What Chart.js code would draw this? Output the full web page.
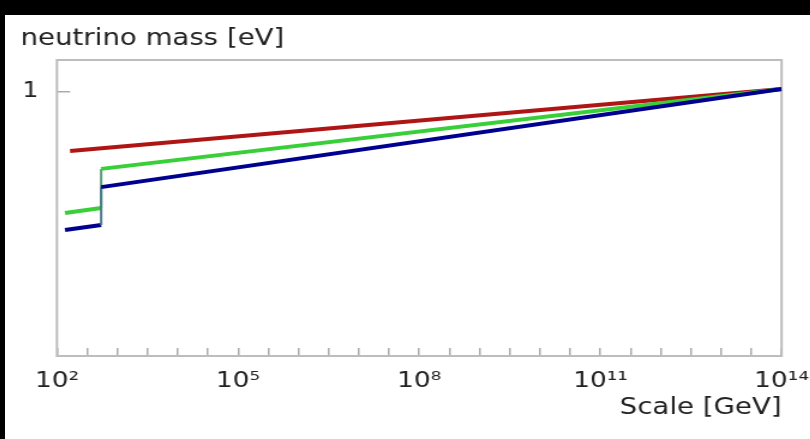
<!DOCTYPE html>
<html>
<head>
<meta charset="utf-8">
<script src="https://cdn.jsdelivr.net/npm/chart.js@4.4.0/dist/chart.umd.min.js"></script>
<style>
  html, body { margin: 0; padding: 0; background: #fff; width: 810px; height: 439px; overflow: hidden; }
  .band { position: absolute; left: 0; top: 0; background: #000; }
  #chart { position: absolute; left: 5px; top: 15px; background: #fff; transform: scaleX(1.2); transform-origin: 0 0; }
</style>
</head>
<body>
<canvas id="chart" width="690" height="424" style="width:690px;height:424px"></canvas>
<div class="band" style="width:810px;height:15px"></div>
<div class="band" style="width:5px;height:439px"></div>
<script>
// scale in GeV, mass in eV
const redScale = [165, 1e14];
const redMass = [0.776, 1.01];
const greenScale = [136, 540, 540, 1e14];
const greenMass = [0.541, 0.560, 0.708, 1.01];
const blueScale = [136, 540, 540, 1e14];
const blueMass = [0.477, 0.496, 0.639, 1.01];

// half-decade tick marks, labels every third decade
const xTickExponents = [2, 2.5, 3, 3.5, 4, 4.5, 5, 5.5, 6, 6.5, 7, 7.5, 8, 8.5, 9, 9.5, 10, 10.5, 11, 11.5, 12, 12.5, 13, 13.5, 14];
const xLabelExponents = [2, 5, 8, 11, 14];
const xTickLabels = ["10²", "10⁵", "10⁸", "10¹¹", "10¹⁴"];
const yTickValues = [1];
const yTickLabels = ["1"];

const toPoints = (xs, ys) => xs.map((x, i) => ({ x: x, y: ys[i] }));
const isStep = ctx => ctx.p0.parsed.x === ctx.p1.parsed.x;

// plot frame
const frame = {
  id: "frame",
  beforeDatasetsDraw(chart) {
    const a = chart.chartArea;
    const ctx = chart.ctx;
    ctx.save();
    ctx.strokeStyle = "#bdbdbd";
    ctx.lineWidth = 2;
    ctx.strokeRect(a.left, a.top, a.right - a.left, a.bottom - a.top);
    ctx.restore();
  }
};

new Chart(document.getElementById("chart"), {
  type: "line",
  data: {
    datasets: [
      {
        data: toPoints(redScale, redMass),
        borderColor: "#b01515",
        borderWidth: 4,
        order: 2
      },
      {
        data: toPoints(greenScale, greenMass),
        borderColor: "#38cf38",
        borderWidth: 4,
        order: 1,
        segment: {
          borderWidth: ctx => isStep(ctx) ? 2 : undefined,
          borderColor: ctx => isStep(ctx) ? "#5a9a78" : undefined
        }
      },
      {
        data: toPoints(blueScale, blueMass),
        borderColor: "#000090",
        borderWidth: 4,
        order: 0,
        segment: {
          borderWidth: ctx => isStep(ctx) ? 2 : undefined,
          borderColor: ctx => isStep(ctx) ? "#4a7a88" : undefined
        }
      }
    ]
  },
  options: {
    responsive: false,
    animation: false,
    events: [],
    elements: { point: { radius: 0 }, line: { tension: 0, borderCapStyle: "butt" } },
    layout: { padding: { left: 13, right: 0, top: 0, bottom: 0 } },
    plugins: {
      legend: { display: false },
      tooltip: { enabled: false },
      title: {
        display: true,
        text: "neutrino mass [eV]",
        align: "start",
        color: "#222",
        font: { family: "DejaVu Sans", size: 23, weight: "normal" },
        padding: { top: 10, bottom: 7.4 }
      }
    },
    scales: {
      x: {
        type: "logarithmic",
        min: 100,
        max: 1e14,
        afterBuildTicks: scale => {
          scale.ticks = xTickExponents.map(e => ({ value: Math.pow(10, e) }));
        },
        afterFit: scale => { scale.height = 83; },
        border: { display: false },
        grid: { drawOnChartArea: false, tickLength: -8, color: "#aaa", lineWidth: 1.5 },
        ticks: {
          autoSkip: false,
          maxRotation: 0,
          padding: 20,
          color: "#222",
          font: { family: "DejaVu Sans", size: 22 },
          callback: value => {
            const e = Math.log10(value);
            const i = xLabelExponents.findIndex(k => Math.abs(k - e) < 1e-6);
            return i >= 0 ? xTickLabels[i] : "";
          }
        },
        title: {
          display: true,
          text: "Scale [GeV]",
          align: "end",
          color: "#222",
          font: { family: "DejaVu Sans", size: 23 },
          padding: { top: 0, bottom: 17 }
        }
      },
      y: {
        type: "linear",
        min: 0,
        max: 1.12,
        afterBuildTicks: scale => {
          scale.ticks = yTickValues.map(v => ({ value: v }));
        },
        afterFit: scale => { scale.width = 30.3; },
        border: { display: false },
        grid: { drawOnChartArea: false, tickLength: -11, color: "#aaa", lineWidth: 1.5 },
        ticks: {
          padding: 26.5,
          color: "#222",
          font: { family: "DejaVu Sans", size: 21 },
          callback: value => {
            const i = yTickValues.indexOf(value);
            return i >= 0 ? yTickLabels[i] : "";
          }
        }
      }
    }
  },
  plugins: [frame]
});
</script>
</body>
</html>
